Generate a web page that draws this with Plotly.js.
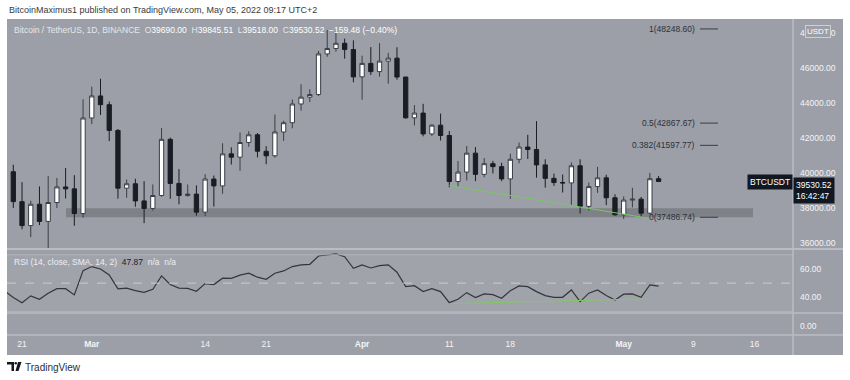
<!DOCTYPE html>
<html>
<head>
<meta charset="utf-8">
<script src="https://cdn.plot.ly/plotly-3.0.1.min.js"></script>
<style>html,body{margin:0;padding:0;background:#fff;}#chart{width:850px;height:380px;}</style>
</head>
<body>
<div id="chart"></div>
<script>
// ---------- DATA ----------
const dates = [
 '2022-02-20','2022-02-21','2022-02-22','2022-02-23','2022-02-24','2022-02-25','2022-02-26','2022-02-27','2022-02-28',
 '2022-03-01','2022-03-02','2022-03-03','2022-03-04','2022-03-05','2022-03-06','2022-03-07','2022-03-08','2022-03-09','2022-03-10',
 '2022-03-11','2022-03-12','2022-03-13','2022-03-14','2022-03-15','2022-03-16','2022-03-17','2022-03-18','2022-03-19','2022-03-20',
 '2022-03-21','2022-03-22','2022-03-23','2022-03-24','2022-03-25','2022-03-26','2022-03-27','2022-03-28','2022-03-29','2022-03-30','2022-03-31',
 '2022-04-01','2022-04-02','2022-04-03','2022-04-04','2022-04-05','2022-04-06','2022-04-07','2022-04-08','2022-04-09','2022-04-10',
 '2022-04-11','2022-04-12','2022-04-13','2022-04-14','2022-04-15','2022-04-16','2022-04-17','2022-04-18','2022-04-19','2022-04-20',
 '2022-04-21','2022-04-22','2022-04-23','2022-04-24','2022-04-25','2022-04-26','2022-04-27','2022-04-28','2022-04-29','2022-04-30',
 '2022-05-01','2022-05-02','2022-05-03','2022-05-04','2022-05-05'
];
const openP = [
 40090,38380,37010,38230,37250,38330,39220,39110,37700,
 43160,44420,43920,42450,39150,39400,38420,37990,38730,41940,
 39420,38730,38810,37780,39670,39280,41110,40920,41760,42200,
 41260,41000,42360,42890,43960,44350,44500,46820,47130,47430,47070,
 45510,46280,45810,46410,46580,45500,43170,43440,42250,42750,
 42160,39530,40070,41150,39940,40550,40380,39680,40800,41500,
 41360,40480,39710,39470,39450,40430,38110,39240,39740,38600,
 37630,38470,38520,37720,39690
];
const highP = [
 40490,39490,38430,39250,39840,39730,40300,39890,44230,
 44950,45400,44100,42530,39640,39690,39550,39360,42590,42040,
 40240,39360,39310,39950,39870,41720,41480,42330,42400,42300,
 41550,43360,43000,44220,45090,44800,46990,48190,48100,47700,47600,
 46720,47210,47440,46890,47200,45510,43900,43970,42800,43410,
 42420,40700,41560,41500,40870,40710,40600,41120,41760,42200,
 42980,40800,39980,39930,40620,40800,39470,40370,39920,38800,
 38680,39170,38650,40020,39845.51
];
const lowP = [
 38020,36800,36350,37040,34320,38010,38560,37000,37450,
 42810,43330,41840,38550,38600,38090,37150,37870,38660,38540,
 38230,38660,37580,37560,38100,38830,40500,40140,41510,40910,
 40520,40890,41850,42570,43580,44070,44420,46660,46950,46550,45200,
 44200,45620,45520,45120,45350,43120,42730,42110,42130,41870,
 39200,39250,39590,39550,39770,39990,39550,38540,40570,40820,
 39750,39180,39280,38900,38200,37700,37870,38880,38180,37580,
 37390,38050,37520,37670,39518
];
const closeP = [
 38380,37010,38230,37250,38330,39220,39110,37700,43160,
 44420,43920,42450,39150,39400,38420,37990,38730,41940,39420,
 38730,38810,37780,39670,39280,41110,40920,41760,42200,41260,
 41000,42360,42890,43960,44350,44500,46820,47130,47430,47070,45510,
 46280,45810,46410,46580,45500,43170,43440,42250,42750,42160,
 39530,40070,41150,39940,40550,40380,39680,40800,41500,41360,
 40480,39710,39470,39450,40430,38110,39240,39740,38600,37630,
 38470,38520,37720,39690,39530.52
];
const rsiDates = ['2022-02-19'].concat(dates);
const rsiValues = [
 44.6,
 39.8,36.2,41.0,38.6,42.8,46.1,46.1,41.7,58.8,
 61.7,60.0,55.8,45.9,46.5,44.7,43.5,45.7,55.1,49.0,
 46.5,46.3,44.3,49.7,49.0,53.5,53.4,55.6,57.0,54.2,
 52.7,57.0,58.6,61.7,62.9,63.3,69.2,69.9,70.6,68.7,60.5,
 62.9,60.7,62.4,62.9,57.7,47.5,48.2,44.0,46.1,44.0,
 36.2,38.6,43.3,39.8,42.4,41.9,39.3,44.7,48.0,47.5,
 44.0,41.2,40.0,40.0,45.2,36.9,42.9,45.2,41.2,38.1,
 42.2,42.4,40.0,48.8,47.87
];
const priceTrendDates = ['2022-04-11','2022-05-04'];
const priceTrendValues = [39300, 37420];
const rsiTrendDates = ['2022-04-11','2022-05-03'];
const rsiTrendValues = [35.5, 38.8];
const supportZone = [37490, 38000];
const fibLevels = ['1','0.5','0.382','0'];
const fibPrices = [48248.60, 42867.67, 41597.77, 37486.74];
const priceTicks = [36000,38000,40000,42000,44000,46000,48000];
const rsiTicks = [40, 60];
const xTickDates = ['2022-02-21','2022-03-01','2022-03-14','2022-03-21','2022-04-01','2022-04-11','2022-04-18','2022-05-01','2022-05-09','2022-05-16'];
const xTickLabels = ['21','<b>Mar</b>','14','21','<b>Apr</b>','11','18','<b>May</b>','9','16'];
const lastPrice = 39530.52;
const lastRsi = 47.87;
const ohlc = {o:39690.00, h:39845.51, l:39518.00, c:39530.52, chg:-159.48, pct:-0.40};

// ---------- GEOMETRY HELPERS ----------
const ML=7, MR=7, MT=20, MB=25, W=850, H=380;
const PW=W-ML-MR, PH=H-MT-MB;
const px = x => (x-ML)/PW;
const py = y => (H-MB-y)/PH;
const X_END = 793;
const BG = 'rgb(156,159,167)';
const SEP = 'rgb(186,188,194)';
const FONT = 'Liberation Sans, Arial, sans-serif';
// pixel -> date (day spacing 8.72px, 2022-02-20 at 13.3px)
const t0 = Date.UTC(2022,1,20);
const pxDate = x => new Date(t0 + (x-13.3)/8.72*86400000).toISOString().replace('T',' ').slice(0,19);

// ---------- TRACES ----------
const traces = [
 {type:'candlestick', x:dates, open:openP, high:highP, low:lowP, close:closeP,
  xaxis:'x', yaxis:'y', whiskerwidth:0,
  increasing:{line:{color:'#3b3e46', width:1}, fillcolor:'#ffffff'},
  decreasing:{line:{color:'#1a1d24', width:1}, fillcolor:'#1a1d24'},
  hoverinfo:'skip', showlegend:false},
 {type:'scatter', mode:'lines', x:priceTrendDates, y:priceTrendValues, xaxis:'x', yaxis:'y',
  line:{color:'rgb(120,200,100)', width:1}, hoverinfo:'skip', showlegend:false},
 {type:'scatter', mode:'lines', x:rsiDates, y:rsiValues, xaxis:'x', yaxis:'y2',
  line:{color:'#33363d', width:1.2}, hoverinfo:'skip', showlegend:false},
 {type:'scatter', mode:'lines', x:rsiTrendDates, y:rsiTrendValues, xaxis:'x', yaxis:'y2',
  line:{color:'rgb(130,200,100)', width:1}, hoverinfo:'skip', showlegend:false},
 {type:'scatter', mode:'lines', x:[], y:[], xaxis:'x', yaxis:'y3', hoverinfo:'skip', showlegend:false}
];

// ---------- SHAPES ----------
const shapes = [
 {type:'rect', xref:'paper', yref:'paper', x0:0, x1:1, y0:0, y1:py(19), fillcolor:BG, line:{width:0}, layer:'below'},
 // support zone
 {type:'rect', xref:'x', yref:'y', x0:pxDate(66), x1:pxDate(753), y0:supportZone[0], y1:supportZone[1],
  fillcolor:'rgb(127,129,137)', line:{width:0}, layer:'below'},
 // RSI band
 {type:'rect', xref:'paper', yref:'y2', x0:0, x1:px(X_END), y0:30, y1:70, fillcolor:'rgba(255,255,255,0.05)', line:{width:0}, layer:'below'},
 {type:'line', xref:'paper', yref:'y2', x0:0, x1:px(X_END), y0:70, y1:70, line:{color:'rgb(176,178,186)', width:1}},
 {type:'line', xref:'paper', yref:'y2', x0:0, x1:px(X_END), y0:30, y1:30, line:{color:'rgb(176,178,186)', width:1}},
 {type:'line', xref:'paper', yref:'y2', x0:0, x1:px(X_END), y0:50, y1:50, line:{color:'rgb(200,202,208)', width:1, dash:'dash'}},
 // pane separators
 {type:'line', xref:'paper', yref:'paper', x0:0, x1:1, y0:py(249), y1:py(249), line:{color:SEP, width:2}},
 {type:'line', xref:'paper', yref:'paper', x0:0, x1:1, y0:py(313), y1:py(313), line:{color:SEP, width:1.5}},
 {type:'line', xref:'paper', yref:'paper', x0:0, x1:1, y0:py(335), y1:py(335), line:{color:SEP, width:1.5}},
 {type:'line', xref:'paper', yref:'paper', x0:px(X_END), x1:px(X_END), y0:0, y1:py(19), line:{color:SEP, width:1.5}},
 // TradingView logo
 {type:'path', xref:'paper', yref:'paper', path:
   `M ${px(7)} ${py(362)} L ${px(14)} ${py(362)} L ${px(14)} ${py(371)} L ${px(11.5)} ${py(371)} L ${px(11.5)} ${py(364.5)} L ${px(7)} ${py(364.5)} Z`,
   fillcolor:'#131722', line:{width:0}},
 {type:'circle', xref:'paper', yref:'paper', x0:px(14.5), x1:px(17), y0:py(362), y1:py(364.5), fillcolor:'#131722', line:{width:0}},
 {type:'path', xref:'paper', yref:'paper', path:
   `M ${px(18)} ${py(362)} L ${px(21.5)} ${py(362)} L ${px(18.5)} ${py(371)} L ${px(15.5)} ${py(371)} Z`,
   fillcolor:'#131722', line:{width:0}}
];
fibPrices.forEach(p => shapes.push({type:'line', xref:'x', yref:'y', x0:pxDate(700), x1:pxDate(718), y0:p, y1:p,
  line:{color:'#3a3d44', width:1}}));

// ---------- ANNOTATIONS ----------
const fmt = v => v.toFixed(2);
const ann = [
 {xref:'paper', yref:'paper', x:0, y:py(10), xanchor:'left', yanchor:'middle', showarrow:false,
  text:'BitcoinMaximus1 published on TradingView.com, May 05, 2022 09:17 UTC+2',
  font:{family:FONT, size:9, color:'#3a3a3a'}},
 {xref:'paper', yref:'paper', x:px(12), y:py(30), xanchor:'left', yanchor:'middle', showarrow:false,
  text:`<span style="color:#e6e7eb">Bitcoin / TetherUS, 1D, BINANCE</span>  <span style="color:#e6e7eb">O</span>${fmt(ohlc.o)}  <span style="color:#e6e7eb">H</span>${fmt(ohlc.h)}  <span style="color:#e6e7eb">L</span>${fmt(ohlc.l)}  <span style="color:#e6e7eb">C</span>${fmt(ohlc.c)}  ${'\u2212'+Math.abs(ohlc.chg).toFixed(2)} (${'\u2212'+Math.abs(ohlc.pct).toFixed(2)}%)`,
  font:{family:FONT, size:8.5, color:'#ffffff'}},
 {xref:'paper', yref:'paper', x:px(12), y:py(261.5), xanchor:'left', yanchor:'middle', showarrow:false,
  text:`RSI (14, close, SMA, 14, 2)  <span style="color:#1e2128">${fmt(lastRsi)}</span>  n/a  n/a`,
  font:{family:FONT, size:8.5, color:'#eceef2'}},
 // last price labels
 {xref:'paper', yref:'y', x:px(X_END), y:lastPrice, xanchor:'right', yanchor:'middle', showarrow:false,
  text:'BTCUSDT', bgcolor:'#131722', borderpad:2, font:{family:FONT, size:8.5, color:'#ffffff'}},
 {xref:'paper', yref:'paper', x:px(X_END), y:py(177), xanchor:'left', yanchor:'top', showarrow:false,
  text:`${fmt(lastPrice)}<br>16:42:47`, align:'left', bgcolor:'#131722', borderpad:2,
  font:{family:FONT, size:8.5, color:'#ffffff'}},
 {xref:'paper', yref:'paper', x:px(818), y:py(31), xanchor:'center', yanchor:'middle', showarrow:false,
  text:'USDT', bgcolor:BG, bordercolor:'rgb(205,207,212)', borderwidth:1, borderpad:1,
  font:{family:FONT, size:8, color:'#ffffff'}},
 // TradingView footer
 {xref:'paper', yref:'paper', x:px(23), y:py(367), xanchor:'left', yanchor:'middle', showarrow:false,
  text:'TradingView', font:{family:FONT, size:10, color:'#2a2e39'}}
];
fibLevels.forEach((lv,i) => ann.push({xref:'x', yref:'y', x:pxDate(697), y:fibPrices[i], xanchor:'right', yanchor:'middle',
  showarrow:false, text:`${lv}(${fmt(fibPrices[i])})`, font:{family:FONT, size:8.5, color:'#2e3138'}}));

// ---------- LAYOUT ----------
const axFont = {family:FONT, size:8.5, color:'#f3f4f7'};
const layout = {
 width:W, height:H, margin:{l:ML, r:MR, t:MT, b:MB, pad:0},
 paper_bgcolor:'#ffffff', plot_bgcolor:'rgba(0,0,0,0)', showlegend:false,
 xaxis:{domain:[0, px(X_END)], type:'date', range:[pxDate(7), pxDate(X_END)], anchor:'y3',
   tickvals:xTickDates, ticktext:xTickLabels, ticks:'', showgrid:false, zeroline:false, showline:false,
   tickfont:axFont, rangeslider:{visible:false}, fixedrange:true, ticklabelstandoff:2},
 yaxis:{domain:[py(248), 1], range:[35730, 48760], side:'right', anchor:'x',
   tickvals:priceTicks, ticktext:priceTicks.map(fmt), ticks:'', showgrid:false, zeroline:false, showline:false,
   tickfont:axFont, ticklabelstandoff:6, fixedrange:true},
 yaxis2:{domain:[py(313), py(250)], range:[28.9, 73.4], side:'right', anchor:'x',
   tickvals:rsiTicks, ticktext:rsiTicks.map(fmt), ticks:'', showgrid:false, zeroline:false, showline:false,
   tickfont:axFont, ticklabelstandoff:6, fixedrange:true},
 yaxis3:{domain:[py(335), py(313)], range:[-0.9, 1.3], side:'right', anchor:'x',
   tickvals:[0], ticktext:['0.00'], ticks:'', showgrid:false, zeroline:false, showline:false,
   tickfont:axFont, ticklabelstandoff:6, fixedrange:true},
 shapes:shapes, annotations:ann
};
Plotly.newPlot('chart', traces, layout, {staticPlot:true, displayModeBar:false});
</script>
</body>
</html>
